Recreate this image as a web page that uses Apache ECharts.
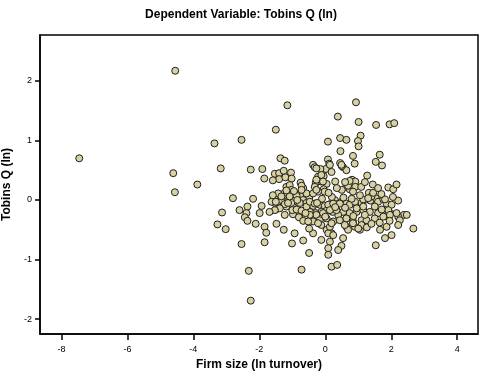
<!DOCTYPE html>
<html>
<head>
<meta charset="utf-8">
<script src="https://cdn.jsdelivr.net/npm/echarts@6/dist/echarts.min.js"></script>
<style>
  html, body { margin: 0; padding: 0; background: #fff; }
  #chart { width: 482px; height: 381px; }
</style>
</head>
<body>
<div id="chart"></div>
<script>
// values
const firmSize = [
  -7.46, -4.55, -1.15, -1.50, -3.36, -2.54, -1.36, -1.23, -4.61, -3.17,
  -2.26, -1.91, -1.85, -3.88, -4.56, -2.80, -2.19, -3.13, -2.60, -2.36,
  -2.39, -1.93, -1.53, -1.40, -1.26, -1.04, -1.40, -1.21, -1.02, -1.18,
  -1.38, -1.23, -1.53, -1.40, -1.26, -1.18, -0.98, -0.75, -0.67, -0.74,
  -0.71, -0.98, -0.77, -1.23, 0.93, 0.38, 1.01, 1.54, 1.95, 2.09,
  0.08, 0.45, 0.64, 1.07, 0.99, 1.01, 0.46, 0.84, 0.89, 1.65,
  1.53, 1.72, -0.37, -0.32, 0.08, 0.12, 0.02, 0.19, -0.15, -0.22,
  -0.05, -0.13, -0.29, 0.04, -0.05, 0.45, 0.54, 0.64, 0.50, 0.30,
  1.27, 1.44, 0.81, 0.91, 0.64, 0.74, 0.91, 1.09, 1.91, 2.06,
  2.16, 0.50, 1.32, -0.57, -0.47, -0.49, -0.75, -0.67, -0.77, -0.57,
  -1.48, -1.28, -1.03, -1.36, -1.63, -1.00, -0.87, -0.72, -0.37, -0.17,
  -0.02, 0.14, 0.29, 0.36, 0.49, 0.64, 0.74, 0.93, 1.10, 1.25,
  1.37, 1.53, 1.60, 1.76, 1.86, 2.01, 2.21, 2.38, 2.21, 1.96,
  1.76, 1.60, 1.35, 1.15, 0.95, 0.74, 0.54, 0.39, 0.22, 0.04,
  -0.12, -0.29, -0.47, 0.14, 0.49, -0.12, -0.07, -0.32, -0.02, -0.22,
  0.69, 0.84, 0.74, 1.40, -0.57, -0.57, 0.09, 0.24, 0.44, 0.90,
  1.15, 1.30, 1.81, 1.91, 1.71, 1.50, 1.15, 0.95, 0.34, 0.14,
  -0.07, -0.27, -0.47, -0.62, -0.37, -0.17, 0.04, 0.24, 0.44, 0.64,
  0.84, 1.10, 1.25, 1.50, 1.76, 1.96, 2.16, 2.26, 2.47, 2.21,
  1.86, 1.66, 2.01, 1.81, 1.53, 0.54, 0.49, 0.39, 0.14, 0.09,
  0.09, 0.19, 0.36, -0.12, -0.37, -0.49, -0.67, -0.49, -0.72, 2.67,
  1.05, 0.90, 0.64, 1.10, 0.19, 0.04, -0.12, -0.22, -3.27, -3.02,
  -2.44, -2.36, -2.11, -1.84, -1.79, -1.84, -2.54, -2.32, -2.26, -1.48,
  -1.26, -1.01, -0.93, -1.50, -1.43, -1.33, -1.23, -1.13, -0.80, -0.67,
  -0.52, -1.59, -1.08, -0.87, -0.72, -0.72, -0.37, -0.27, -0.47, -0.32,
  -0.27, -0.27, 0.09, 0.24, 0.14, 0.19, 1.26, 1.00, 0.84, 0.69,
  0.59, -1.08, -1.03, -1.18, -1.43, -1.33, -1.59, -1.50, -1.38, -1.53,
  -1.99, -1.69, -0.10, 0.20, 0.55, 0.80, 1.05, 1.45, 1.70, 2.05,
  0.30, 0.60, 0.85, 1.20, 1.40, 1.65, 1.95, 0.00, -0.25, -0.60,
  -0.85, -0.95, 0.10, 0.35, 0.60, 1.20, 1.60
];
const tobinsQ = [
  0.70, 2.17, 1.59, 1.18, 0.95, 1.01, 0.70, 0.66, 0.45, 0.53,
  0.51, 0.52, 0.36, 0.26, 0.13, 0.03, 0.02, -0.21, -0.17, -0.11,
  -0.22, -0.10, 0.44, 0.45, 0.49, 0.46, 0.35, 0.38, 0.36, 0.22,
  0.07, 0.12, -0.05, -0.07, -0.03, -0.11, -0.11, 0.29, 0.20, 0.12,
  0.04, -0.24, -0.24, -0.25, 1.64, 1.40, 1.31, 1.26, 1.27, 1.29,
  0.98, 1.04, 1.01, 1.08, 0.99, 0.90, 0.82, 0.74, 0.61, 0.76,
  0.64, 0.58, 0.59, 0.55, 0.68, 0.61, 0.52, 0.47, 0.52, 0.39,
  0.40, 0.31, 0.29, 0.27, 0.18, 0.62, 0.55, 0.50, 0.57, 0.31,
  0.41, 0.26, 0.34, 0.31, 0.22, 0.18, 0.22, 0.22, 0.21, 0.18,
  0.26, 0.17, 0.12, 0.08, 0.08, 0.03, 0.06, 0.00, -0.05, -0.05,
  0.00, -0.01, -0.05, -0.10, -0.03, -0.17, -0.16, -0.18, -0.10, -0.08,
  -0.10, -0.07, 0.00, -0.07, -0.03, -0.06, -0.08, -0.07, -0.05, 0.01,
  -0.01, 0.03, -0.03, 0.01, -0.06, -0.08, -0.01, -0.25, -0.28, -0.22,
  -0.25, -0.22, -0.20, -0.17, -0.20, -0.22, -0.20, -0.25, -0.20, -0.18,
  -0.20, -0.22, -0.20, 0.59, 0.59, 0.42, 0.31, 0.22, 0.14, 0.14,
  0.24, 0.14, 0.32, 0.06, 0.11, -0.11, -0.08, -0.06, -0.06, -0.03,
  0.01, 0.03, 0.01, -0.17, -0.16, -0.11, -0.11, -0.14, -0.17, -0.17,
  -0.22, -0.25, -0.25, -0.31, -0.36, -0.34, -0.31, -0.36, -0.34, -0.31,
  -0.36, -0.34, -0.34, -0.31, -0.28, -0.25, -0.22, -0.34, -0.25, -0.42,
  -0.45, -0.50, -0.59, -0.64, -0.76, -0.64, -0.77, -0.84, -0.70, -0.81,
  -0.92, -1.12, -1.09, -0.67, -0.56, -0.48, -0.68, -0.89, -1.17, -0.48,
  -0.50, -0.45, -0.45, -0.42, -0.56, -0.50, -0.42, -0.39, -0.41, -0.49,
  -0.29, -0.35, -0.40, -0.45, -0.55, -0.71, -0.74, -1.19, -1.69, -0.40,
  -0.50, -0.73, -0.56, -0.16, -0.03, 0.00, -0.07, -0.05, -0.29, -0.35,
  -0.36, 0.33, 0.06, 0.07, 0.24, 0.17, 0.11, 0.17, -0.03, -0.06,
  0.34, 0.53, -0.56, -0.59, -0.45, -0.39, -0.46, -0.48, -0.39, -0.50,
  -0.42, 0.25, 0.17, 0.16, 0.11, 0.06, 0.08, -0.03, -0.14, -0.17,
  -0.22, -0.20, 0.02, 0.05, 0.04, 0.02, 0.08, 0.12, 0.10, 0.05,
  -0.12, -0.13, -0.27, -0.25, -0.40, -0.38, -0.35, -0.28, -0.05, -0.22,
  0.00, 0.15, 0.12, 0.20, 0.30, 0.30, 0.20
];
const xTicks = [-8, -6, -4, -2, 0, 2, 4];
const yTicks = [-2, -1, 0, 1, 2];

const points = firmSize.map((x, i) => [x, tobinsQ[i]]);

const chart = echarts.init(document.getElementById('chart'), null, { renderer: 'canvas' });
const font = '"Liberation Sans", Arial, sans-serif';

const option = {
  animation: false,
  backgroundColor: '#fff',
  title: {
    text: 'Dependent Variable: Tobins Q (ln)',
    left: 'center',
    top: 4,
    textStyle: { fontFamily: font, fontSize: 12, fontWeight: 'bold', color: '#000' }
  },
  grid: {
    left: 40,
    top: 35,
    right: 4,
    bottom: 47,
    show: true,
    borderColor: '#000',
    borderWidth: 1.5,
    containLabel: false,
    outerBoundsMode: 'none'
  },
  xAxis: {
    type: 'value',
    min: -8.65,
    max: 4.63,
    name: 'Firm size (ln turnover)',
    nameLocation: 'middle',
    nameGap: 21,
    nameTextStyle: { fontFamily: font, fontSize: 12, fontWeight: 'bold', color: '#000' },
    axisLine: { show: true, onZero: false, lineStyle: { color: '#000', width: 1.5 } },
    axisTick: { show: true, length: 6, customValues: xTicks, lineStyle: { color: '#000', width: 1.5 } },
    axisLabel: { customValues: xTicks, margin: 11, fontFamily: font, fontSize: 9, color: '#000' },
    splitLine: { show: false }
  },
  yAxis: {
    type: 'value',
    min: -2.25,
    max: 2.77,
    name: 'Tobins Q (ln)',
    nameLocation: 'middle',
    nameRotate: 90,
    nameGap: 22,
    nameTextStyle: { fontFamily: font, fontSize: 12, fontWeight: 'bold', color: '#000' },
    axisLine: { show: true, onZero: false, lineStyle: { color: '#000', width: 1.5 } },
    axisTick: { show: true, length: 5, customValues: yTicks, lineStyle: { color: '#000', width: 1.5 } },
    axisLabel: { customValues: yTicks, margin: 8, fontFamily: font, fontSize: 9, color: '#000' },
    splitLine: { show: false }
  },
  series: [
    {
      type: 'scatter',
      data: points,
      symbol: 'circle',
      symbolSize: 7,
      itemStyle: { color: '#d8d1a1', borderColor: '#1e1e1e', borderWidth: 1, opacity: 1 }
    }
  ]
};

chart.setOption(option);
</script>
</body>
</html>
